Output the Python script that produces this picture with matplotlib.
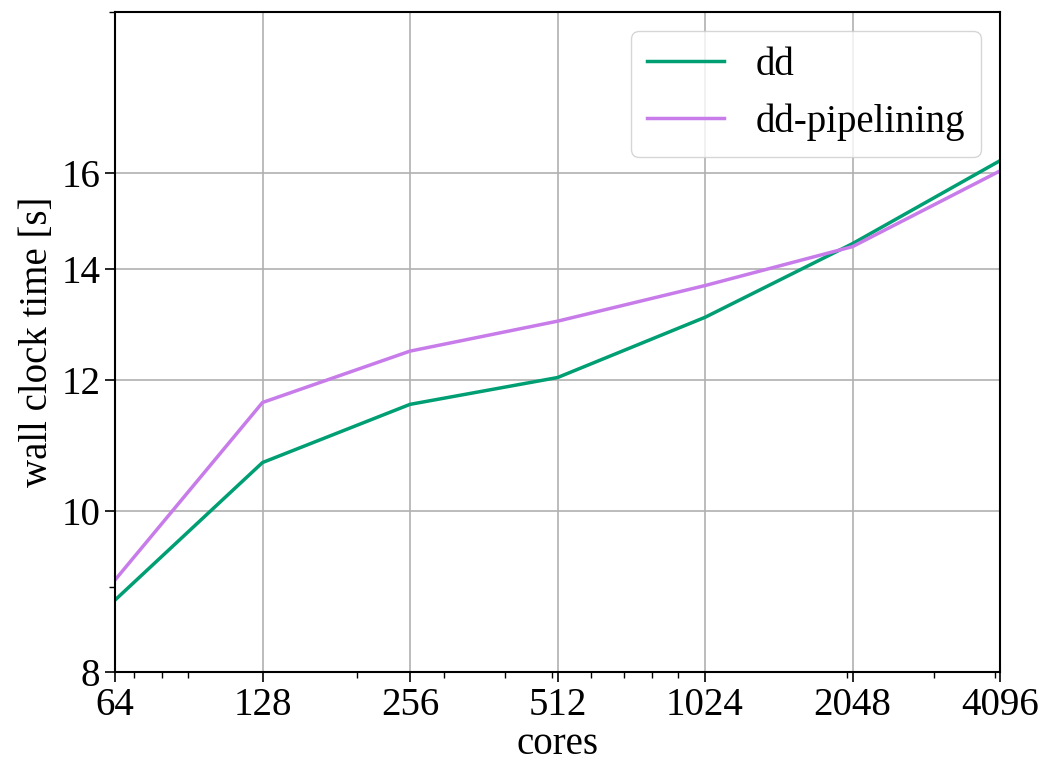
import numpy as np
import matplotlib
matplotlib.use("Agg")
import matplotlib.pyplot as plt
from matplotlib.ticker import ScalarFormatter, NullFormatter

cores = [64, 128, 256, 512, 1024, 2048, 4096]
dd = [8.84, 10.70, 11.60, 12.04, 13.09, 14.50, 16.27]
dd_pipe = [9.09, 11.63, 12.49, 13.02, 13.68, 14.44, 16.04]
yticks = [8, 10, 12, 14, 16]

plt.rcParams['font.family'] = ['Liberation Serif', 'DejaVu Serif']
plt.rcParams['font.size'] = 28

fig = plt.figure(figsize=(10.46, 7.68), dpi=100)
ax = fig.add_axes([115 / 1046, 96 / 768, 885 / 1046, 660 / 768])

ax.plot(cores, dd, color='#009e73', lw=2.5, label='dd')
ax.plot(cores, dd_pipe, color='#c77cea', lw=2.5, label='dd-pipelining')

ax.set_xscale('log')
ax.set_yscale('log')
ax.set_xlim(64, 4096)
ax.set_ylim(8, 20)
ax.set_xticks(cores)
ax.set_yticks(yticks)
ax.xaxis.set_major_formatter(ScalarFormatter())
ax.yaxis.set_major_formatter(ScalarFormatter())
ax.xaxis.set_minor_formatter(NullFormatter())
ax.yaxis.set_minor_formatter(NullFormatter())
ax.tick_params(which='major', length=7, width=1.2)
ax.tick_params(which='minor', length=4, width=1)
ax.grid(True, which='major', color='#b0b0b0', lw=1.2)
for s in ax.spines.values():
    s.set_linewidth(1.5)

ax.set_xlabel('cores', labelpad=2)
ax.set_ylabel('wall clock time [s]')
ax.legend(loc='upper right', fontsize=28, borderaxespad=0.5)

fig.savefig('out.png', dpi=100)
